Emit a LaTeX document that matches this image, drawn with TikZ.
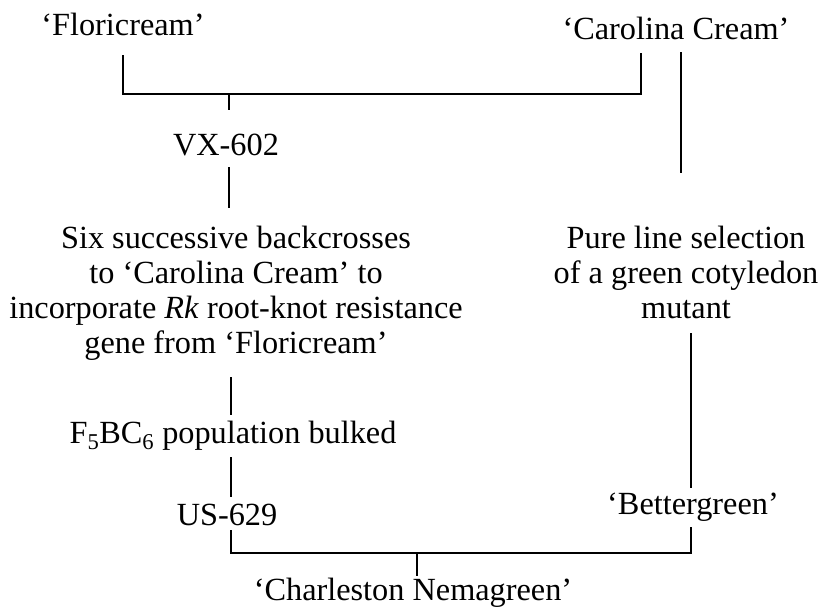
\documentclass[tikz,border=0pt]{standalone}
\usepackage{fontspec}
\setmainfont{Liberation Serif}
\begin{document}
\begin{tikzpicture}[x=1pt,y=-1pt,
  lbl/.style={anchor=base,inner sep=0pt,font=\fontsize{32.3}{35}\selectfont,align=center},
  conn/.style={line width=1.4pt,black}]
\useasboundingbox (0,0) rectangle (819,608);
% texts (multi-line nodes: base = baseline of the last line)
\node[lbl] (flor) at (123,35) {`Floricream'};
\node[lbl] (cc) at (676,39) {`Carolina Cream'};
\node[lbl] (vx) at (226,155) {VX-602};
\node[lbl] (six) at (236,353) {Six successive backcrosses\\to `Carolina Cream' to\\incorporate \textit{Rk} root-knot resistance\\gene from `Floricream'};
\node[lbl] (pure) at (686,318) {Pure line selection\\of a green cotyledon\\mutant};
\node[lbl] (f5) at (233,443) {F\textsubscript{5}BC\textsubscript{6} population bulked};
\node[lbl] (us) at (227,525) {US-629};
\node[lbl] (bg) at (693,514) {`Bettergreen'};
\node[lbl] (ch) at (413,600) {`Charleston Nemagreen'};
% connector points
\coordinate (fl1) at (123,55);
\coordinate (fl2) at (123,94);
\coordinate (cr1) at (641,53);
\coordinate (cr2) at (641,94);
\coordinate (j1) at (229,94);
\coordinate (j1b) at (229,110);
\coordinate (cc1) at (681,52);
\coordinate (cc2) at (681,173);
\coordinate (vx1) at (229,167);
\coordinate (vx2) at (229,208);
\coordinate (gn1) at (231,377);
\coordinate (gn2) at (231,415);
\coordinate (pm1) at (691,333);
\coordinate (pm2) at (691,488);
\coordinate (f51) at (231,457);
\coordinate (f52) at (231,497);
\coordinate (bg1) at (691,527);
\coordinate (bg2) at (691,553);
\coordinate (us1) at (231,530);
\coordinate (us2) at (231,553);
\coordinate (j2) at (417,553);
\coordinate (j2b) at (417,576);
% connectors
\draw[conn] (fl1) -- (fl2) -- (cr2) -- (cr1);
\draw[conn] (j1) -- (j1b);
\draw[conn] (cc1) -- (cc2);
\draw[conn] (vx1) -- (vx2);
\draw[conn] (gn1) -- (gn2);
\draw[conn] (pm1) -- (pm2);
\draw[conn] (f51) -- (f52);
\draw[conn] (us1) -- (us2) -- (bg2) -- (bg1);
\draw[conn] (j2) -- (j2b);
\end{tikzpicture}
\end{document}
